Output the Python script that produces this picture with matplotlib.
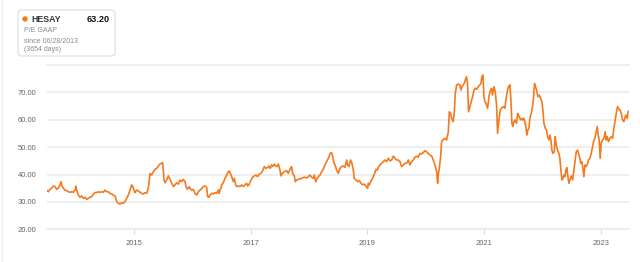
import matplotlib
matplotlib.use("Agg")
import matplotlib.pyplot as plt
from matplotlib.patches import FancyBboxPatch, Circle
from matplotlib.lines import Line2D

plt.rcParams['font.family'] = ['Liberation Sans', 'DejaVu Sans']

# decimal years and P/E GAAP values
years = [
    2013.497, 2013.525, 2013.554, 2013.583, 2013.611, 2013.640, 2013.668, 2013.697, 2013.726, 2013.743,
    2013.760, 2013.783, 2013.811, 2013.840, 2013.869, 2013.897, 2013.926, 2013.954, 2013.983, 2014.000,
    2014.011, 2014.040, 2014.069, 2014.097, 2014.126, 2014.154, 2014.183, 2014.212, 2014.240, 2014.269,
    2014.297, 2014.326, 2014.354, 2014.383, 2014.412, 2014.440, 2014.469, 2014.497, 2014.526, 2014.555,
    2014.583, 2014.612, 2014.640, 2014.669, 2014.698, 2014.726, 2014.755, 2014.783, 2014.812, 2014.840,
    2014.869, 2014.898, 2014.926, 2014.955, 2014.972, 2014.995, 2015.012, 2015.041, 2015.069, 2015.098,
    2015.126, 2015.155, 2015.184, 2015.212, 2015.241, 2015.258, 2015.269, 2015.298, 2015.326, 2015.355,
    2015.384, 2015.412, 2015.441, 2015.469, 2015.486, 2015.498, 2015.509, 2015.527, 2015.555, 2015.584,
    2015.612, 2015.641, 2015.670, 2015.698, 2015.727, 2015.755, 2015.784, 2015.812, 2015.841, 2015.870,
    2015.887, 2015.910, 2015.944,
    2015.955, 2015.984, 2016.013, 2016.041, 2016.070, 2016.098, 2016.127, 2016.155, 2016.184, 2016.213,
    2016.241, 2016.258, 2016.281, 2016.298, 2016.327, 2016.356, 2016.384, 2016.413, 2016.441, 2016.459,
    2016.470, 2016.487, 2016.499, 2016.527, 2016.556, 2016.584, 2016.613, 2016.630, 2016.647, 2016.670,
    2016.699, 2016.716, 2016.739, 2016.756, 2016.784, 2016.813, 2016.842, 2016.870, 2016.899, 2016.927,
    2016.945, 2016.967, 2017.002, 2017.030, 2017.059, 2017.087, 2017.116, 2017.145, 2017.173, 2017.202,
    2017.230, 2017.259, 2017.288, 2017.310, 2017.333, 2017.356, 2017.379, 2017.402, 2017.425, 2017.448,
    2017.471, 2017.499, 2017.516, 2017.539, 2017.573, 2017.613, 2017.642, 2017.671, 2017.699, 2017.716,
    2017.745, 2017.762, 2017.785, 2017.814, 2017.842, 2017.871, 2017.899, 2017.928, 2017.957, 2017.985,
    2018.014, 2018.042, 2018.071, 2018.088, 2018.111, 2018.128, 2018.157, 2018.185, 2018.214, 2018.242,
    2018.271, 2018.300, 2018.328, 2018.357, 2018.374, 2018.391, 2018.403, 2018.420, 2018.432,
    2018.443, 2018.471, 2018.500, 2018.529, 2018.557, 2018.586, 2018.614, 2018.643, 2018.660, 2018.683,
    2018.711, 2018.734, 2018.757, 2018.774, 2018.803, 2018.832, 2018.860, 2018.889, 2018.917, 2018.946,
    2018.974, 2019.003, 2019.015, 2019.032, 2019.055, 2019.077, 2019.100, 2019.123, 2019.146, 2019.169,
    2019.192, 2019.215, 2019.243, 2019.272, 2019.300, 2019.329, 2019.357, 2019.386, 2019.415, 2019.443,
    2019.472, 2019.500, 2019.529, 2019.558, 2019.586, 2019.615, 2019.643, 2019.672, 2019.701, 2019.729,
    2019.758, 2019.786, 2019.815, 2019.844, 2019.872, 2019.901, 2019.929, 2019.958, 2019.986, 2020.015,
    2020.044, 2020.072, 2020.101, 2020.129, 2020.158, 2020.187, 2020.204, 2020.215, 2020.232, 2020.255,
    2020.272, 2020.301, 2020.330, 2020.358, 2020.387, 2020.404, 2020.427, 2020.444, 2020.472, 2020.490,
    2020.507, 2020.530, 2020.558, 2020.587, 2020.604, 2020.621, 2020.644, 2020.661, 2020.678, 2020.701,
    2020.718, 2020.735, 2020.758, 2020.781, 2020.804, 2020.827, 2020.850, 2020.873, 2020.901, 2020.930,
    2020.946, 2020.963, 2020.981, 2020.998, 2021.015, 2021.032, 2021.061, 2021.089, 2021.112, 2021.129,
    2021.146, 2021.169, 2021.192, 2021.215, 2021.232, 2021.255, 2021.278, 2021.301, 2021.329, 2021.358,
    2021.375, 2021.398, 2021.421, 2021.444, 2021.461, 2021.478, 2021.495, 2021.512, 2021.530, 2021.558,
    2021.575, 2021.592, 2021.615, 2021.632, 2021.650, 2021.667, 2021.684, 2021.701, 2021.718, 2021.735,
    2021.752, 2021.770, 2021.787, 2021.810, 2021.833, 2021.850, 2021.867, 2021.884, 2021.901, 2021.924,
    2021.947, 2021.970, 2021.993, 2022.010, 2022.027, 2022.050, 2022.073, 2022.090, 2022.113, 2022.130,
    2022.147, 2022.164, 2022.181, 2022.204, 2022.221, 2022.239, 2022.261, 2022.284, 2022.301, 2022.319,
    2022.336, 2022.353, 2022.370, 2022.387, 2022.404, 2022.421, 2022.439, 2022.456, 2022.473, 2022.496,
    2022.519, 2022.542, 2022.564, 2022.582, 2022.604, 2022.622, 2022.644, 2022.662, 2022.679, 2022.696,
    2022.713, 2022.730, 2022.747, 2022.770, 2022.793, 2022.816, 2022.839, 2022.862, 2022.879, 2022.902,
    2022.925, 2022.942, 2022.959, 2022.976, 2022.993, 2023.010, 2023.033, 2023.056, 2023.079, 2023.096,
    2023.113, 2023.136, 2023.159, 2023.182, 2023.205, 2023.228, 2023.250, 2023.273, 2023.291, 2023.313,
    2023.336, 2023.359, 2023.376, 2023.399, 2023.422, 2023.439, 2023.456, 2023.473, 2023.487,
]
pe = [
    34.3, 33.7, 34.6, 35.0, 35.8, 35.6, 34.6, 35.0, 36.2, 37.4,
    35.8, 35.0, 34.3, 34.1, 33.7, 33.5, 33.7, 33.5, 34.3, 35.8,
    34.3, 32.5, 31.7, 32.2, 31.3, 31.7, 30.9, 31.3, 31.7, 31.9,
    32.8, 33.4, 33.4, 33.7, 33.5, 33.7, 33.5, 34.3, 33.7, 33.7,
    33.1, 32.9, 32.5, 32.2, 30.1, 29.5, 29.2, 29.7, 29.5, 30.1,
    31.3, 32.5, 34.3, 36.2, 35.6, 34.3, 33.4, 34.3, 34.1, 33.5,
    33.1, 32.9, 33.4, 33.1, 35.0, 38.0, 40.4, 39.8, 41.0, 41.9,
    42.2, 43.1, 43.8, 44.1, 44.3, 41.6, 38.0, 37.0, 38.0, 39.5,
    38.2, 36.8, 35.6, 36.2, 37.0, 36.5, 38.0, 37.4, 38.2, 37.4,
    35.6, 34.6, 35.6,
    34.9, 34.3, 34.6, 33.1, 32.5, 33.7, 34.3, 34.9, 35.6, 35.8,
    35.3, 31.9, 31.7, 32.5, 33.1, 32.9, 33.4, 33.1, 34.3, 33.1,
    34.6, 34.9, 36.2, 37.0, 38.6, 39.8, 41.0, 41.3, 40.4, 39.2,
    37.4, 38.6, 36.2, 35.6, 35.8, 35.6, 36.2, 35.6, 36.2, 36.8,
    35.8, 36.2, 38.0, 39.0, 39.5, 39.8, 39.2, 40.2, 40.4, 41.4,
    42.9, 42.2, 42.6, 43.1, 42.2, 43.5, 42.9, 43.8, 43.1, 42.9,
    43.8, 41.6, 39.5, 40.4, 41.0, 41.4, 40.4, 41.9, 42.9, 40.4,
    39.5, 37.4, 38.0, 38.2, 38.4, 38.6, 38.9, 39.0, 38.7, 39.2,
    39.8, 39.0, 38.6, 39.8, 37.4, 38.2, 39.2, 39.8, 41.0, 41.9,
    43.5, 44.7, 45.9, 47.5, 48.0, 47.7, 46.5, 44.7, 43.8,
    43.5, 41.6, 40.4, 42.2, 42.9, 43.1, 42.6, 45.3, 43.5, 42.9,
    45.3, 44.1, 41.6, 38.6, 38.0, 37.4, 37.8, 36.8, 36.2, 36.5,
    35.8, 34.9, 36.8, 36.2, 37.4, 38.2, 39.2, 40.4, 41.9, 41.6,
    42.9, 43.5, 44.1, 44.7, 45.3, 44.7, 45.9, 45.0, 45.3, 46.7,
    45.9, 45.3, 45.3, 44.7, 42.9, 43.5, 44.1, 44.1, 45.3, 43.5,
    44.7, 45.3, 46.3, 46.7, 46.3, 47.7, 47.5, 48.0, 48.7, 48.3,
    47.7, 47.1, 46.7, 45.3, 43.5, 41.0, 36.8, 39.8, 42.2, 46.5,
    52.0, 52.8, 53.2, 52.6, 55.6, 62.9, 62.3, 60.5, 59.3, 62.9,
    69.6, 72.7, 73.0, 72.7, 70.8, 72.1, 72.7, 73.3, 74.5, 75.7,
    72.7, 62.9, 64.8, 66.6, 68.4, 70.8, 71.5, 71.1, 72.1, 72.7,
    73.3, 75.7, 76.3, 68.4, 66.6, 66.0, 64.2, 69.0, 70.8, 71.4,
    69.0, 72.1, 70.2, 65.4, 55.0, 59.9, 63.5, 64.2, 64.8, 64.2,
    67.2, 70.2, 72.1, 72.7, 67.2, 58.7, 57.5, 59.3, 59.9, 58.7,
    62.3, 61.7, 60.5, 59.9, 60.5, 59.9, 60.5, 59.3, 57.5, 54.4,
    56.2, 56.9, 60.5, 62.3, 64.8, 68.4, 73.3, 72.1, 70.8, 68.4,
    69.0, 67.8, 66.6, 63.5, 58.7, 56.9, 56.2, 53.8, 52.6, 54.4,
    52.6, 48.9, 47.7, 48.3, 53.8, 50.8, 48.9, 47.7, 45.9, 41.6,
    38.0, 38.6, 39.8, 39.2, 41.6, 42.5, 39.2, 36.8, 38.0, 39.5,
    38.0, 41.6, 45.3, 48.3, 48.9, 47.7, 45.9, 44.1, 44.7, 42.3,
    39.2, 43.5, 42.9, 43.5, 45.3, 45.9, 47.7, 50.2, 52.0, 53.2,
    55.6, 57.5, 54.4, 52.6, 45.9, 51.4, 52.6, 53.2, 55.6, 52.6,
    53.8, 52.0, 53.2, 53.8, 53.2, 56.9, 59.9, 62.9, 64.8, 63.8,
    63.5, 61.7, 59.9, 59.3, 61.1, 61.7, 60.5, 63.0, 63.2,
]

y_ticks = [20, 30, 40, 50, 60, 70]
y_labels = ["20.00", "30.00", "40.00", "50.00", "60.00", "70.00"]
x_ticks = [2015, 2017, 2019, 2021, 2023]
x_labels = ["2015", "2017", "2019", "2021", "2023"]

ticker = "HESAY"
last_value = "63.20"
metric = "P/E GAAP"
since = "since 06/28/2013"
days = "(3654 days)"

LINE = "#f47a1f"
GRID = "#e9e9e9"
TXT = "#666666"

W, H = 640, 262
fig = plt.figure(figsize=(W / 100, H / 100), dpi=100)
fig.patch.set_facecolor("white")

left_px, right_px, top_px, bot_px = 46.7, 629.0, 64.9, 229.3
ax = fig.add_axes([left_px / W, (H - bot_px) / H, (right_px - left_px) / W, (bot_px - top_px) / H])
ax.plot(years, pe, color=LINE, lw=1.2, solid_joinstyle="round")
ax.set_xlim(years[0], years[-1])
ax.set_ylim(20, 80)

ax.set_yticks(y_ticks)
ax.set_yticklabels(y_labels)
ax.set_xticks(x_ticks)
ax.set_xticklabels(x_labels)
ax.grid(axis="y", color=GRID, lw=1.1)
ax.set_axisbelow(True)
for s in ["left", "right"]:
    ax.spines[s].set_visible(False)
for s in ["top", "bottom"]:
    ax.spines[s].set_color(GRID)
    ax.spines[s].set_linewidth(1.1)
ax.tick_params(axis="y", length=0, pad=7.5, labelsize=5.5, labelcolor=TXT)
ax.tick_params(axis="x", length=3.6, width=0.8, color="#dddddd", pad=4.2, labelsize=5.5, labelcolor=TXT)

# legend card
card = FancyBboxPatch((0.18, (H - 56) / 100), 0.97, 0.46,
                      boxstyle="round,pad=0,rounding_size=0.04",
                      transform=fig.dpi_scale_trans, facecolor="white",
                      edgecolor="#dcdcdc", lw=0.8)
fig.add_artist(card)
fig.add_artist(Circle((0.25, (H - 19) / 100), 0.027, transform=fig.dpi_scale_trans,
                      facecolor=LINE, edgecolor="none"))
fig.text(31 / W, (H - 19) / H, ticker, fontsize=6.3, fontweight="bold", color="#333333", va="center", ha="left")
fig.text(109.5 / W, (H - 19) / H, last_value, fontsize=6.6, fontweight="bold", color="#111111", va="center", ha="right")
fig.text(24 / W, (H - 31) / H, metric, fontsize=5.0, color="#8a8a8a", va="center", ha="left")
fig.text(24 / W, (H - 41.5) / H, since, fontsize=5.0, color="#8a8a8a", va="center", ha="left")
fig.text(24 / W, (H - 49.5) / H, days, fontsize=5.0, color="#8a8a8a", va="center", ha="left")

# faint left border
fig.add_artist(Line2D([2.3 / W, 2.3 / W], [0, 1], transform=fig.transFigure, color="#f4eef0", lw=1.0))

fig.savefig("out.png", dpi=100, facecolor="white")
